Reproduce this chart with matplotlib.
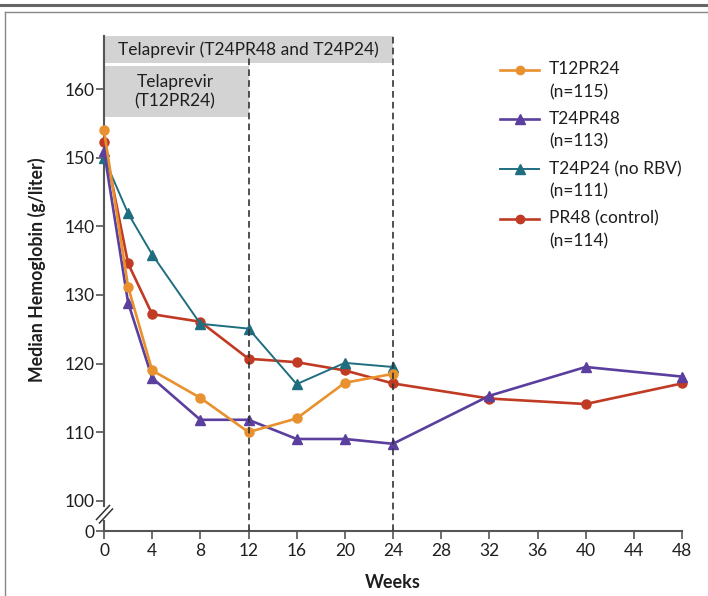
import matplotlib
matplotlib.use('Agg')
import matplotlib.pyplot as plt
from matplotlib.lines import Line2D
from matplotlib.patches import Rectangle
import matplotlib.transforms as mtrans

# ---------------- data ----------------
weeks_t12pr24 = [0, 2, 4, 8, 12, 16, 20, 24]
hb_t12pr24 = [154.0, 131.2, 119.0, 115.0, 110.0, 112.0, 117.2, 118.5]

weeks_t24pr48 = [0, 2, 4, 8, 12, 16, 20, 24, 32, 40, 48]
hb_t24pr48 = [151.0, 128.9, 117.9, 111.8, 111.8, 109.0, 109.0, 108.3, 115.3, 119.5, 118.1]

weeks_t24p24 = [0, 2, 4, 8, 12, 16, 20, 24]
hb_t24p24 = [150.0, 141.9, 135.9, 125.8, 125.1, 117.0, 120.1, 119.5]

weeks_pr48 = [0, 2, 4, 8, 12, 16, 20, 24, 32, 40, 48]
hb_pr48 = [152.3, 134.6, 127.2, 126.1, 120.7, 120.2, 119.0, 117.1, 114.9, 114.1, 117.1]

series_names = ["T12PR24", "T24PR48", "T24P24 (no RBV)", "PR48 (control)"]
series_n = ["(n=115)", "(n=113)", "(n=111)", "(n=114)"]

x_ticks = list(range(0, 49, 4))
y_ticks = [100, 110, 120, 130, 140, 150, 160]

box_labels = ["Telaprevir (T24PR48 and T24P24)", "Telaprevir\n(T12PR24)"]
box_weeks = [24, 12]
x_label = "Weeks"
y_label = "Median Hemoglobin (g/liter)"

# ---------------- style ----------------
FONT = ['Lato', 'DejaVu Sans']
plt.rcParams['font.family'] = FONT
FS = 12.5
W, H = 708, 596
fig = plt.figure(figsize=(W / 100, H / 100), dpi=100)
fig.patch.set_facecolor('white')

def fx(x):
    return x / W

def fy(y):
    return 1 - y / H

AX_COL = '#555555'
TXT = '#1e1e1e'
orange = '#e8912e'
purple = '#5b3f9e'
teal = '#1f6e80'
red = '#c13a24'

# frame lines
fig.add_artist(Line2D([0, 1], [fy(5), fy(5)], transform=fig.transFigure, color='#666666', lw=2.2))
fig.add_artist(Line2D([fx(5), 1], [fy(11.5), fy(11.5)], transform=fig.transFigure, color='#888888', lw=1.0))
fig.add_artist(Line2D([fx(5), fx(5)], [0, fy(11.5)], transform=fig.transFigure, color='#888888', lw=1.0))

left, right = 104, 682
top_px, bot_px = 36, 506
ax = fig.add_axes([fx(left), fy(bot_px), (right - left) / W, (bot_px - top_px) / H])
ylo = 100 - (bot_px - 500.7) / 6.857
yhi = 160 + (89.3 - top_px) / 6.857
ax.set_xlim(0, 48)
ax.set_ylim(ylo, yhi)
for s in ['top', 'right', 'bottom']:
    ax.spines[s].set_visible(False)
ax.spines['left'].set_color(AX_COL)
ax.spines['left'].set_linewidth(1.5)
ax.set_xticks([])
ax.set_yticks(y_ticks)
ax.tick_params(axis='y', direction='out', length=6, width=1.2, color=AX_COL,
               labelsize=FS, pad=1, labelcolor=TXT)
ax.patch.set_alpha(0)

# bottom axis (0 level)
axb = fig.add_axes([fx(left), fy(531), (right - left) / W, 10 / H])
axb.set_xlim(0, 48)
axb.set_ylim(0, 1)
for s in ['top', 'right']:
    axb.spines[s].set_visible(False)
for s in ['left', 'bottom']:
    axb.spines[s].set_color(AX_COL)
    axb.spines[s].set_linewidth(1.5)
axb.set_yticks([0])
axb.set_xticks(x_ticks)
axb.tick_params(axis='y', direction='out', length=6, width=1.2, color=AX_COL,
                labelsize=FS, pad=1, labelcolor=TXT)
axb.tick_params(axis='x', direction='out', length=6, width=1.2, color=AX_COL,
                labelsize=FS, pad=3, labelcolor=TXT)
axb.patch.set_alpha(0)

# break marks
for (x0, y0, x1, y1) in [(96.5, 519.5, 109.5, 505.5), (99.5, 523, 112.5, 509)]:
    fig.add_artist(Line2D([fx(x0), fx(x1)], [fy(y0), fy(y1)], transform=fig.transFigure,
                          color='#333333', lw=1.1))

# gray boxes
box1_lo = 160 + (89.3 - 63) / 6.857
box2_hi = 160 + (89.3 - 66) / 6.857
box2_lo = 160 + (89.3 - 117) / 6.857
ax.add_patch(Rectangle((0, box1_lo), box_weeks[0], yhi - box1_lo, facecolor='#d3d3d4',
                       edgecolor='none', clip_on=False, zorder=1))
ax.add_patch(Rectangle((0, box2_lo), box_weeks[1], box2_hi - box2_lo, facecolor='#d3d3d4',
                       edgecolor='none', clip_on=False, zorder=1))
ax.text(box_weeks[0] / 2, (box1_lo + yhi) / 2, box_labels[0], ha='center', va='center',
        fontsize=FS, color=TXT, zorder=2)
ax.text(box_weeks[1] / 2 - 0.1, (box2_lo + box2_hi) / 2, box_labels[1], ha='center', va='center',
        fontsize=FS, color=TXT, linespacing=1.25, zorder=2)

# dashed lines
blend = mtrans.blended_transform_factory(ax.transData, fig.transFigure)
fig.add_artist(Line2D([box_weeks[1], box_weeks[1]], [fy(531), fy(57)], transform=blend,
                      color='#333333', lw=1.2, dashes=(4, 2.5)))
fig.add_artist(Line2D([box_weeks[0], box_weeks[0]], [fy(531), fy(36)], transform=blend,
                      color='#333333', lw=1.2, dashes=(4, 2.5)))

# series
ax.plot(weeks_pr48, hb_pr48, color=red, lw=1.9, marker='o', ms=6.5, clip_on=False, zorder=3)
ax.plot(weeks_t24p24, hb_t24p24, color=teal, lw=1.4, marker='^', ms=7.5, clip_on=False, zorder=4)
ax.plot(weeks_t24pr48, hb_t24pr48, color=purple, lw=1.9, marker='^', ms=7.5, clip_on=False, zorder=5)
ax.plot(weeks_t12pr24, hb_t12pr24, color=orange, lw=1.9, marker='o', ms=6.5, clip_on=False, zorder=6)

# legend (manual)
leg_cols = [orange, purple, teal, red]
leg_marks = ['o', '^', '^', 'o']
leg_ms = [6, 7, 7, 6]
leg_lw = [1.9, 1.9, 1.4, 1.9]
row_y = [69.5, 119.3, 169.3, 218.5]
for i in range(4):
    y = row_y[i]
    fig.add_artist(Line2D([fx(500), fx(519.5), fx(539)], [fy(y)] * 3, transform=fig.transFigure,
                          color=leg_cols[i], lw=leg_lw[i], marker=leg_marks[i], ms=leg_ms[i],
                          markevery=[1]))
    fig.text(fx(549), fy(y), series_names[i], ha='left', va='center', fontsize=FS, color=TXT)
    fig.text(fx(549), fy(y + 22.5), series_n[i], ha='left', va='center', fontsize=FS, color=TXT)

fig.text(fx(393), fy(583), x_label, ha='center', va='center', fontsize=13, fontweight='bold',
         color=TXT)
fig.text(fx(37), fy(270), y_label, ha='center', va='center', rotation=90, fontsize=12.8,
         fontweight='bold', color=TXT)

fig.savefig('out.png', dpi=100)
